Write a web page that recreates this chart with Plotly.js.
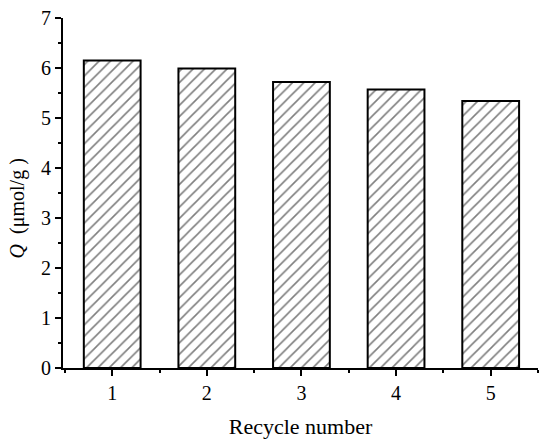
<!DOCTYPE html>
<html>
<head>
<meta charset="utf-8">
<script src="https://cdn.plot.ly/plotly-3.0.1.min.js"></script>
<style>html,body{margin:0;padding:0;background:#fff;}#chart{width:550px;height:444px;}</style>
</head>
<body>
<div id="chart"></div>
<script>
var recycleNumbers = [1, 2, 3, 4, 5];
var qValues = [6.15, 5.99, 5.72, 5.57, 5.34];
var xTickVals = [1, 2, 3, 4, 5];
var xTickText = ['1', '2', '3', '4', '5'];
var yTickVals = [0, 1, 2, 3, 4, 5, 6, 7];
var yTitle = '<i>Q</i>  (μmol/g )';

var font = 'Liberation Serif, Times New Roman, serif';

var trace = {
  type: 'bar',
  x: recycleNumbers,
  y: qValues,
  width: 0.6,
  marker: {
    color: '#ffffff',
    line: {color: '#000000', width: 2},
    pattern: {shape: '/', fgcolor: '#000000', bgcolor: '#ffffff', size: 8, solidity: 0.2, fillmode: 'overlay'}
  },
  hoverinfo: 'skip'
};

var layout = {
  width: 550, height: 444,
  margin: {l: 63, r: 12, t: 18, b: 76},
  paper_bgcolor: '#ffffff',
  plot_bgcolor: '#ffffff',
  showlegend: false,
  font: {family: font, color: '#000000', size: 20},
  xaxis: {
    range: [0.48, 5.5],
    tickvals: xTickVals,
    ticktext: xTickText,
    ticks: 'outside', ticklen: 6, tickwidth: 2, tickcolor: '#000',
    minor: {dtick: 0.5, tick0: 0.5, ticks: 'outside', ticklen: 3, tickwidth: 2, tickcolor: '#000'},
    showline: true, linecolor: '#000', linewidth: 2,
    showgrid: false, zeroline: false,
    tickfont: {family: font, size: 20, color: '#000'},
    title: {text: 'Recycle number', font: {family: font, size: 22, color: '#000'}, standoff: 16}
  },
  yaxis: {
    range: [0, 7],
    tickvals: yTickVals,
    ticks: 'outside', ticklen: 6, tickwidth: 2, tickcolor: '#000',
    minor: {dtick: 0.5, tick0: 0, ticks: 'outside', ticklen: 3, tickwidth: 2, tickcolor: '#000'},
    showline: true, linecolor: '#000', linewidth: 2,
    showgrid: false, zeroline: false,
    tickfont: {family: font, size: 20, color: '#000'}
  },
  annotations: [{
    text: yTitle,
    xref: 'paper', yref: 'y',
    x: -0.095, y: 3.19,
    xanchor: 'center', yanchor: 'middle',
    textangle: -90,
    showarrow: false,
    font: {family: font, size: 20, color: '#000'}
  }]
};

Plotly.newPlot('chart', [trace], layout, {displayModeBar: false, staticPlot: true});
</script>
</body>
</html>
